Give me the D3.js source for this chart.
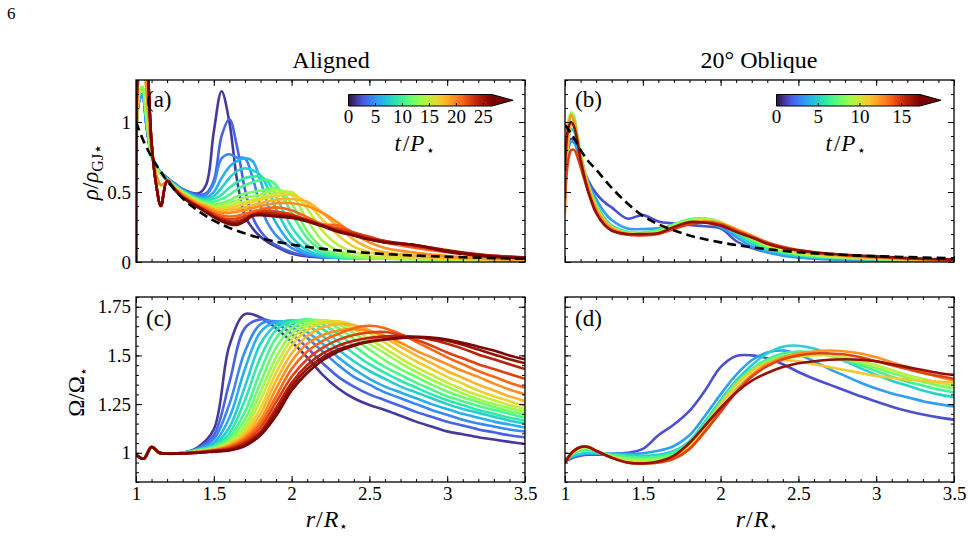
<!DOCTYPE html>
<html>
<head>
<meta charset="utf-8">
<script src="https://cdn.jsdelivr.net/npm/d3@7"></script>
<style>
body { margin: 0; background: #fff; }
text { font-family: "Liberation Serif", "DejaVu Serif", serif; fill: #000; }
</style>
</head>
<body>
<div id="fig"></div>
<script>
// ---------------- data ----------------
// snapshot times t/P* of each curve
var tAligned = [1.5, 3, 4.5, 6, 7.5, 9, 10.5, 12, 13.5, 15, 16.5, 18, 19.5, 21, 22.5, 24, 25.5, 26.5];
var tOblique = [1.5, 3.5, 5, 6.5, 8, 9.5, 11, 12.5, 14.5, 16.5];
var tMaxAligned = 26.6;
var tMaxOblique = 17.2;

// radius grids
var rRhoAligned = [1.0, 1.02, 1.04, 1.07, 1.1, 1.13, 1.16, 1.2, 1.25, 1.3, 1.4, 1.45, 1.5, 1.55, 1.6, 1.65, 1.7, 1.75, 1.8, 1.85, 1.9, 2.0, 2.1, 2.2, 2.3, 2.4, 2.5, 2.6, 2.8, 3.0, 3.25, 3.5];
var rRhoOblique = [1.0, 1.02, 1.04, 1.06, 1.08, 1.1, 1.15, 1.2, 1.25, 1.3, 1.4, 1.5, 1.6, 1.7, 1.8, 1.9, 2.0, 2.1, 2.2, 2.3, 2.4, 2.5, 2.6, 2.8, 3.0, 3.25, 3.5];
var rOmega = [1.0, 1.05, 1.1, 1.15, 1.2, 1.3, 1.4, 1.5, 1.6, 1.7, 1.8, 1.9, 2.0, 2.1, 2.2, 2.3, 2.4, 2.5, 2.6, 2.7, 2.8, 2.9, 3.0, 3.1, 3.2, 3.3, 3.4, 3.5];
var rGJ = [1.0, 1.05, 1.1, 1.15, 1.2, 1.3, 1.4, 1.5, 1.6, 1.8, 2.0, 2.2, 2.5, 2.8, 3.1, 3.5];

// (a) rho / rho_GJ, aligned
var rhoAligned = [
  [0.9,1.15,1.2,0.95,0.76,0.68,0.64,0.6,0.56,0.52, 0.49,0.55,0.93,1.22,1.0,0.58,0.33,0.24,0.18,0.14,0.11, 0.06,0.04,0.033,0.032,0.032,0.03,0.028, 0.025,0.02,0.016,0.013],
  [0.9,1.15,1.2,0.95,0.76,0.68,0.64,0.6,0.555,0.52, 0.48,0.49,0.58,0.9,1.02,0.82,0.52,0.32,0.22,0.16,0.12, 0.07,0.045,0.035,0.03,0.03,0.03,0.028, 0.025,0.02,0.016,0.013],
  [0.9,1.15,1.2,0.95,0.76,0.68,0.64,0.6,0.555,0.515, 0.47,0.48,0.56,0.74,0.77,0.745,0.74,0.6,0.4,0.27,0.19, 0.1,0.055,0.035,0.03,0.028,0.027,0.026, 0.024,0.02,0.016,0.013],
  [0.9,1.15,1.2,0.95,0.76,0.68,0.64,0.6,0.55,0.51, 0.46,0.46,0.5,0.6,0.68,0.72,0.74,0.72,0.58,0.4,0.28, 0.13,0.065,0.04,0.03,0.028,0.027,0.026, 0.024,0.02,0.016,0.013],
  [0.6,1.2,1.25,1.0,0.76,0.67,0.63,0.59,0.55,0.51, 0.455,0.45,0.47,0.53,0.6,0.65,0.67,0.655,0.62,0.52,0.38, 0.18,0.085,0.045,0.032,0.028,0.026,0.025, 0.023,0.02,0.016,0.013],
  [0.6,1.2,1.25,1.0,0.76,0.67,0.63,0.59,0.545,0.505, 0.45,0.44,0.45,0.48,0.53,0.57,0.6,0.61,0.61,0.57,0.47, 0.25,0.12,0.06,0.035,0.028,0.025,0.024, 0.022,0.019,0.016,0.013],
  [0.6,1.2,1.25,1.0,0.76,0.67,0.63,0.59,0.545,0.505, 0.445,0.43,0.43,0.45,0.48,0.52,0.55,0.57,0.585,0.585,0.55, 0.35,0.17,0.08,0.045,0.03,0.025,0.023, 0.021,0.019,0.016,0.013],
  [0.6,1.2,1.25,1.0,0.76,0.67,0.63,0.59,0.54,0.5, 0.44,0.42,0.41,0.42,0.44,0.47,0.49,0.5,0.51,0.52,0.53, 0.42,0.22,0.1,0.055,0.035,0.027,0.023, 0.021,0.019,0.016,0.013],
  [0.6,1.2,1.25,1.0,0.76,0.67,0.63,0.59,0.54,0.5, 0.435,0.415,0.4,0.405,0.42,0.44,0.46,0.47,0.48,0.5,0.515, 0.48,0.3,0.15,0.08,0.045,0.03,0.025, 0.021,0.019,0.016,0.013],
  [0.1,1.4,1.5,1.2,0.8,0.62,0.55,0.57,0.53,0.49, 0.43,0.41,0.39,0.39,0.4,0.42,0.43,0.445,0.46,0.475,0.49, 0.5,0.38,0.22,0.12,0.07,0.045,0.032, 0.023,0.02,0.016,0.013],
  [0.1,1.4,1.5,1.2,0.8,0.62,0.55,0.57,0.53,0.49, 0.425,0.405,0.385,0.38,0.385,0.4,0.415,0.43,0.445,0.46,0.47, 0.48,0.42,0.3,0.19,0.11,0.07,0.05, 0.032,0.025,0.018,0.014],
  [0.1,1.4,1.5,1.2,0.8,0.62,0.55,0.57,0.525,0.485, 0.42,0.4,0.375,0.365,0.37,0.38,0.39,0.405,0.42,0.435,0.445, 0.45,0.43,0.35,0.25,0.16,0.1,0.07, 0.045,0.03,0.02,0.015],
  [0.1,1.4,1.5,1.2,0.8,0.62,0.55,0.57,0.525,0.48, 0.415,0.39,0.365,0.35,0.35,0.36,0.37,0.385,0.4,0.41,0.42, 0.42,0.4,0.35,0.28,0.2,0.14,0.1, 0.065,0.042,0.028,0.02],
  [0.0,1.6,1.7,1.45,0.85,0.55,0.4,0.58,0.52,0.47, 0.405,0.38,0.35,0.33,0.325,0.33,0.345,0.36,0.375,0.385,0.39, 0.37,0.32,0.27,0.26,0.21,0.17,0.14, 0.1,0.07,0.045,0.03],
  [0.0,1.6,1.7,1.45,0.85,0.55,0.4,0.58,0.52,0.47, 0.4,0.37,0.34,0.315,0.305,0.31,0.325,0.345,0.36,0.365,0.36, 0.34,0.3,0.26,0.24,0.21,0.18,0.15, 0.11,0.075,0.048,0.032],
  [0.0,1.6,1.7,1.45,0.85,0.55,0.4,0.58,0.52,0.465, 0.395,0.365,0.33,0.305,0.29,0.29,0.31,0.335,0.35,0.35,0.345, 0.33,0.3,0.26,0.225,0.2,0.17,0.15, 0.12,0.085,0.05,0.033],
  [0.0,1.6,1.7,1.45,0.85,0.55,0.4,0.58,0.515,0.46, 0.39,0.36,0.325,0.295,0.28,0.275,0.3,0.335,0.34,0.335,0.33, 0.32,0.295,0.26,0.22,0.19,0.16,0.14, 0.12,0.08,0.045,0.03],
  [0.0,1.6,1.7,1.45,0.85,0.55,0.4,0.58,0.515,0.46, 0.39,0.355,0.32,0.29,0.27,0.265,0.29,0.33,0.335,0.33,0.325, 0.315,0.29,0.255,0.215,0.19,0.16,0.14, 0.12,0.074,0.04,0.027]
];

// (b) rho / rho_GJ, 20 degree oblique
var rhoOblique = [
  [0.75,0.85,0.88,0.86,0.8,0.72, 0.58,0.49,0.43,0.39, 0.31,0.335,0.29,0.275,0.265,0.255, 0.24,0.15,0.1,0.07,0.05,0.035,0.025, 0.018,0.014,0.012,0.01],
  [0.6,0.8,0.86,0.85,0.8,0.72, 0.56,0.45,0.36,0.3, 0.24,0.235,0.24,0.255,0.275,0.285, 0.25,0.18,0.11,0.07,0.045,0.032,0.024, 0.016,0.012,0.01,0.008],
  [0.5,0.85,0.95,0.93,0.85,0.75, 0.55,0.42,0.32,0.26, 0.215,0.205,0.215,0.26,0.3,0.305, 0.28,0.2,0.13,0.085,0.06,0.045,0.035, 0.025,0.018,0.013,0.01],
  [0.55,0.95,1.06,1.02,0.9,0.78, 0.55,0.41,0.31,0.255, 0.215,0.21,0.23,0.27,0.305,0.31, 0.285,0.215,0.15,0.1,0.07,0.052,0.04, 0.028,0.02,0.014,0.011],
  [0.6,0.98,1.07,1.03,0.9,0.77, 0.54,0.4,0.3,0.25, 0.21,0.205,0.22,0.265,0.3,0.31, 0.285,0.225,0.165,0.11,0.078,0.058,0.045, 0.03,0.022,0.015,0.012],
  [0.65,1.0,1.06,1.0,0.88,0.75, 0.53,0.39,0.3,0.245, 0.205,0.2,0.215,0.26,0.295,0.305, 0.28,0.23,0.175,0.12,0.085,0.063,0.05, 0.034,0.024,0.016,0.012],
  [0.4,0.85,0.98,0.97,0.88,0.76, 0.54,0.39,0.3,0.245, 0.205,0.2,0.21,0.245,0.28,0.295, 0.28,0.235,0.185,0.13,0.095,0.072,0.057, 0.038,0.027,0.018,0.013],
  [0.35,0.95,1.05,1.0,0.88,0.75, 0.53,0.38,0.29,0.24, 0.2,0.195,0.205,0.24,0.275,0.29, 0.275,0.235,0.19,0.14,0.105,0.08,0.064, 0.044,0.031,0.02,0.014],
  [0.45,0.72,0.8,0.8,0.75,0.68, 0.5,0.36,0.27,0.225, 0.195,0.19,0.2,0.235,0.27,0.285, 0.27,0.225,0.18,0.14,0.108,0.085,0.07, 0.05,0.036,0.023,0.016],
  [0.65,0.95,1.0,0.96,0.86,0.73, 0.5,0.35,0.27,0.225, 0.2,0.2,0.205,0.25,0.285,0.28, 0.26,0.215,0.175,0.13,0.1,0.083,0.07, 0.052,0.04,0.026,0.017]
];

// dashed reference curves
var rhoGJAligned = [1.0, 0.86, 0.75, 0.66, 0.58, 0.455, 0.365, 0.296, 0.244, 0.171, 0.125, 0.094, 0.064, 0.046, 0.034, 0.023];
var rhoGJOblique = [0.98, 0.9, 0.8, 0.72, 0.66, 0.53, 0.42, 0.33, 0.27, 0.19, 0.14, 0.105, 0.07, 0.05, 0.038, 0.026];

// (c) Omega / Omega*, aligned
var omegaAligned = [
  [0.99,0.97,1.03,1.0,0.995,1.0, 1.03,1.12,1.55,1.712,1.695,1.64,1.57,1.49,1.40,1.33,1.28,1.245,1.22,1.19,1.16,1.135,1.11,1.095,1.08,1.068,1.056,1.045],
  [0.99,0.97,1.03,1.0,0.995,1.0, 1.025,1.09,1.36,1.64,1.685,1.665,1.61,1.54,1.46,1.39,1.34,1.30,1.27,1.24,1.21,1.185,1.16,1.14,1.12,1.105,1.09,1.08],
  [0.99,0.97,1.03,1.0,0.995,1.0, 1.02,1.07,1.25,1.52,1.66,1.675,1.645,1.59,1.52,1.45,1.39,1.35,1.31,1.28,1.25,1.22,1.195,1.17,1.15,1.135,1.12,1.11],
  [0.99,0.97,1.03,1.0,0.995,1.0, 1.02,1.05,1.18,1.43,1.62,1.672,1.665,1.62,1.56,1.49,1.43,1.38,1.34,1.31,1.28,1.25,1.225,1.20,1.18,1.16,1.145,1.13],
  [0.99,0.97,1.03,1.0,0.995,1.0, 1.015,1.04,1.13,1.34,1.56,1.655,1.68,1.655,1.60,1.53,1.47,1.42,1.38,1.34,1.31,1.28,1.25,1.225,1.205,1.185,1.165,1.15],
  [0.99,0.97,1.03,1.0,0.995,1.0, 1.015,1.035,1.10,1.27,1.49,1.63,1.675,1.675,1.635,1.57,1.51,1.455,1.41,1.37,1.335,1.30,1.27,1.245,1.22,1.20,1.18,1.165],
  [0.99,0.97,1.03,1.0,0.995,1.0, 1.012,1.03,1.08,1.21,1.42,1.59,1.665,1.685,1.66,1.61,1.55,1.49,1.44,1.40,1.36,1.325,1.29,1.265,1.24,1.22,1.20,1.18],
  [0.99,0.97,1.03,1.0,0.995,0.998, 1.01,1.025,1.065,1.17,1.36,1.54,1.64,1.68,1.675,1.64,1.585,1.53,1.475,1.43,1.39,1.35,1.315,1.285,1.26,1.235,1.215,1.195],
  [0.99,0.97,1.03,1.0,0.995,0.998, 1.01,1.02,1.055,1.14,1.31,1.49,1.61,1.665,1.68,1.66,1.615,1.56,1.51,1.46,1.415,1.375,1.34,1.305,1.275,1.25,1.23,1.21],
  [0.99,0.97,1.03,1.0,0.995,0.998, 1.008,1.02,1.05,1.12,1.27,1.45,1.58,1.65,1.678,1.67,1.635,1.585,1.535,1.485,1.44,1.40,1.36,1.325,1.295,1.27,1.245,1.225],
  [0.99,0.97,1.03,1.0,0.995,0.998, 1.008,1.018,1.045,1.105,1.23,1.41,1.55,1.63,1.668,1.675,1.655,1.615,1.565,1.515,1.47,1.43,1.39,1.355,1.32,1.29,1.265,1.24],
  [0.99,0.97,1.03,1.0,0.995,0.998, 1.006,1.016,1.04,1.09,1.20,1.37,1.51,1.60,1.645,1.66,1.655,1.63,1.59,1.545,1.50,1.46,1.42,1.385,1.35,1.32,1.29,1.265],
  [0.99,0.97,1.03,1.0,0.995,0.997, 1.005,1.015,1.035,1.08,1.17,1.33,1.47,1.56,1.605,1.628,1.635,1.625,1.60,1.565,1.525,1.49,1.455,1.42,1.39,1.355,1.325,1.30],
  [0.99,0.97,1.03,1.0,0.995,0.997, 1.004,1.013,1.03,1.07,1.15,1.29,1.43,1.52,1.575,1.61,1.64,1.652,1.64,1.61,1.57,1.53,1.49,1.455,1.42,1.39,1.36,1.335],
  [0.99,0.97,1.03,1.0,0.995,0.997, 1.003,1.012,1.025,1.06,1.13,1.26,1.39,1.48,1.54,1.58,1.605,1.618,1.62,1.605,1.58,1.55,1.515,1.485,1.455,1.43,1.405,1.38],
  [0.99,0.97,1.03,1.0,0.995,0.997, 1.002,1.01,1.02,1.05,1.11,1.23,1.36,1.45,1.51,1.55,1.575,1.59,1.598,1.60,1.595,1.58,1.56,1.535,1.505,1.48,1.455,1.43],
  [0.99,0.97,1.03,1.0,0.995,0.997, 1.0,1.008,1.015,1.04,1.10,1.21,1.34,1.43,1.49,1.53,1.555,1.572,1.583,1.59,1.593,1.588,1.575,1.555,1.53,1.505,1.48,1.46],
  [0.99,0.97,1.03,1.0,0.995,0.997, 1.0,1.006,1.012,1.035,1.09,1.19,1.32,1.41,1.475,1.52,1.55,1.57,1.582,1.59,1.595,1.592,1.582,1.565,1.545,1.525,1.50,1.48]
];

// (d) Omega / Omega*, oblique
var omegaOblique = [
  [0.955,0.975,0.985,0.99,0.99,0.995,1.0,1.02,1.09,1.145,1.215,1.32,1.44,1.497,1.50,1.485,1.455,1.415,1.38,1.35,1.32,1.29,1.263,1.237,1.215,1.197,1.182,1.17],
  [0.965,0.98,0.99,0.995,0.995,0.995,0.995,0.998,1.01,1.035,1.09,1.19,1.30,1.40,1.475,1.515,1.525,1.505,1.47,1.43,1.395,1.36,1.33,1.305,1.285,1.265,1.25,1.238],
  [0.96,0.985,0.995,1.0,0.998,0.993,0.99,0.985,0.99,1.01,1.06,1.16,1.27,1.37,1.45,1.51,1.545,1.55,1.535,1.505,1.47,1.435,1.40,1.37,1.345,1.32,1.30,1.285],
  [0.965,0.995,1.01,1.015,1.005,0.99,0.98,0.975,0.98,1.0,1.05,1.15,1.26,1.36,1.43,1.48,1.51,1.52,1.515,1.50,1.475,1.45,1.42,1.39,1.365,1.345,1.325,1.31],
  [0.96,1.0,1.02,1.025,1.01,0.985,0.97,0.965,0.97,0.99,1.04,1.14,1.25,1.35,1.42,1.47,1.495,1.505,1.51,1.50,1.48,1.46,1.435,1.41,1.385,1.365,1.345,1.33],
  [0.955,1.0,1.025,1.03,1.01,0.98,0.96,0.955,0.96,0.98,1.03,1.12,1.23,1.33,1.40,1.45,1.48,1.495,1.50,1.50,1.49,1.47,1.45,1.425,1.40,1.38,1.36,1.345],
  [0.955,1.0,1.03,1.03,1.01,0.98,0.955,0.95,0.955,0.975,1.03,1.13,1.25,1.35,1.42,1.46,1.475,1.47,1.455,1.44,1.425,1.41,1.395,1.385,1.375,1.37,1.365,1.36],
  [0.955,1.005,1.03,1.03,1.01,0.975,0.95,0.945,0.95,0.97,1.02,1.11,1.22,1.32,1.40,1.455,1.49,1.51,1.52,1.525,1.52,1.51,1.49,1.465,1.44,1.415,1.39,1.37],
  [0.95,1.005,1.03,1.03,1.01,0.975,0.95,0.945,0.95,0.97,1.02,1.11,1.21,1.31,1.39,1.445,1.48,1.50,1.51,1.51,1.505,1.49,1.47,1.45,1.43,1.41,1.395,1.38],
  [0.95,1.005,1.03,1.03,1.01,0.975,0.95,0.945,0.955,0.985,1.05,1.14,1.23,1.31,1.37,1.41,1.44,1.46,1.47,1.478,1.48,1.478,1.47,1.455,1.44,1.425,1.41,1.40]
];

// tick labels
var xTicks = [1, 1.5, 2, 2.5, 3, 3.5];
var xTickLabels = ["1", "1.5", "2", "2.5", "3", "3.5"];
var rhoTicks = [0, 0.5, 1];
var rhoTickLabels = ["0", "0.5", "1"];
var omegaTicks = [1, 1.25, 1.5, 1.75];
var omegaTickLabels = ["1", "1.25", "1.5", "1.75"];
var cbarTicksAligned = [0, 5, 10, 15, 20, 25];
var cbarTicksOblique = [0, 5, 10, 15];

// ---------------- layout ----------------
var svgWidth = 973;
var svgHeight = 537;
var serif = "'Liberation Serif', 'DejaVu Serif', serif";

var svg = d3.select("#fig").append("svg")
    .attr("width", svgWidth)
    .attr("height", svgHeight);
var defs = svg.append("defs");

var xLeft = d3.scaleLinear().domain([1, 3.5]).range([136, 525]);
var xRight = d3.scaleLinear().domain([1, 3.5]).range([565, 954]);
var yRho = d3.scaleLinear().domain([0, 1.3]).range([262, 80]);
var yOmega = d3.scaleLinear().domain([0.85, 1.8]).range([482, 297]);

// turbo colour map, with the darker ends of the matplotlib version
function cmap(f) {
    f = Math.max(0, Math.min(1, f));
    if (f < 0.08) return d3.interpolateRgb("#30123b", d3.interpolateTurbo(0.08))(f / 0.08);
    if (f > 0.92) return d3.interpolateRgb(d3.interpolateTurbo(0.92), "#7a0403")((f - 0.92) / 0.08);
    return d3.interpolateTurbo(f);
}

function styleAxis(g) {
    g.select(".domain").remove();
    g.selectAll("line").attr("stroke", "#000").attr("stroke-width", 1);
    g.selectAll("text").attr("font-family", serif).attr("font-size", 19).attr("fill", "#000");
}

// inward ticks on all four sides plus the frame
function drawAxes(x, y, yTicks, yMinor, xLabels, yLabels) {
    var x0 = x.range()[0], x1 = x.range()[1];
    var y0 = y.range()[0], y1 = y.range()[1];
    var xMinor = d3.range(1, 3.5001, 0.1);
    var g = svg.append("g");

    g.append("g").attr("transform", `translate(0,${y0})`)
        .call(d3.axisBottom(x).tickValues(xMinor).tickSize(-3).tickFormat(() => ""))
        .call(styleAxis);
    g.append("g").attr("transform", `translate(0,${y0})`)
        .call(d3.axisBottom(x).tickValues(xTicks).tickSize(-6).tickPadding(5)
            .tickFormat((d, i) => xLabels ? xLabels[i] : ""))
        .call(styleAxis);
    g.append("g").attr("transform", `translate(0,${y1})`)
        .call(d3.axisTop(x).tickValues(xMinor).tickSize(-3).tickFormat(() => ""))
        .call(styleAxis);
    g.append("g").attr("transform", `translate(0,${y1})`)
        .call(d3.axisTop(x).tickValues(xTicks).tickSize(-6).tickFormat(() => ""))
        .call(styleAxis);

    g.append("g").attr("transform", `translate(${x0},0)`)
        .call(d3.axisLeft(y).tickValues(yMinor).tickSize(-3).tickFormat(() => ""))
        .call(styleAxis);
    g.append("g").attr("transform", `translate(${x0},0)`)
        .call(d3.axisLeft(y).tickValues(yTicks).tickSize(-6).tickPadding(5)
            .tickFormat((d, i) => yLabels ? yLabels[i] : ""))
        .call(styleAxis);
    g.append("g").attr("transform", `translate(${x1},0)`)
        .call(d3.axisRight(y).tickValues(yMinor).tickSize(-3).tickFormat(() => ""))
        .call(styleAxis);
    g.append("g").attr("transform", `translate(${x1},0)`)
        .call(d3.axisRight(y).tickValues(yTicks).tickSize(-6).tickFormat(() => ""))
        .call(styleAxis);

    g.append("rect")
        .attr("x", x0).attr("y", y1)
        .attr("width", x1 - x0).attr("height", y0 - y1)
        .attr("fill", "none").attr("stroke", "#000").attr("stroke-width", 1.3);
}

function drawCurves(id, rGrid, series, times, tMax, x, y, dashVals) {
    defs.append("clipPath").attr("id", id).append("rect")
        .attr("x", x.range()[0]).attr("y", y.range()[1])
        .attr("width", x.range()[1] - x.range()[0])
        .attr("height", y.range()[0] - y.range()[1]);

    var line = d3.line()
        .x(d => x(d[0]))
        .y(d => y(d[1]))
        .curve(d3.curveCatmullRom.alpha(0.5));

    var g = svg.append("g").attr("clip-path", `url(#${id})`);
    g.selectAll("path.curve")
        .data(series)
        .join("path")
        .attr("class", "curve")
        .attr("d", vals => line(d3.zip(rGrid, vals)))
        .attr("fill", "none")
        .attr("stroke", (vals, i) => cmap(times[i] / tMax))
        .attr("stroke-width", 2.6)
        .attr("stroke-linejoin", "round");

    if (dashVals) {
        g.append("path")
            .attr("d", line(d3.zip(rGJ, dashVals)))
            .attr("fill", "none")
            .attr("stroke", "#000")
            .attr("stroke-width", 2.6)
            .attr("stroke-dasharray", "9,5");
    }
}

function drawColorbar(id, x0, tMax, ticks, labelX) {
    var w = 143.5, top = 94.5, h = 11.5;
    var cb = d3.scaleLinear().domain([0, tMax]).range([x0, x0 + w]);
    var grad = defs.append("linearGradient").attr("id", id);
    d3.range(0, 1.0001, 0.05).forEach(f => {
        grad.append("stop").attr("offset", f).attr("stop-color", cmap(f));
    });
    var x1 = x0 + w;
    svg.append("rect")
        .attr("x", x0).attr("y", top).attr("width", w).attr("height", h)
        .attr("fill", `url(#${id})`);
    svg.append("path")
        .attr("d", `M${x1},${top}L${x1 + 21},${top + h / 2}L${x1},${top + h}Z`)
        .attr("fill", cmap(1));
    svg.append("path")
        .attr("d", `M${x0},${top}H${x1}L${x1 + 21},${top + h / 2}L${x1},${top + h}H${x0}Z`)
        .attr("fill", "none").attr("stroke", "#000").attr("stroke-width", 1);

    svg.selectAll(null).data(ticks.filter(t => t > 0)).join("line")
        .attr("x1", d => cb(d)).attr("x2", d => cb(d))
        .attr("y1", top + h - 3).attr("y2", top + h)
        .attr("stroke", "#000").attr("stroke-width", 1);
    svg.selectAll(null).data(ticks).join("text")
        .attr("x", d => cb(d)).attr("y", 123)
        .attr("text-anchor", "middle")
        .attr("font-size", 19)
        .text(d => d);

    var lab = svg.append("text")
        .attr("x", labelX).attr("y", 151)
        .attr("text-anchor", "middle")
        .attr("font-size", 23);
    lab.append("tspan").attr("font-style", "italic").text("t");
    lab.append("tspan").attr("dx", 2).text("/");
    lab.append("tspan").attr("dx", 1).attr("font-style", "italic").text("P");
    lab.append("tspan").attr("font-size", 14).attr("dx", 2).attr("dy", 4).text("⋆");
}

// ---------------- panels ----------------
drawCurves("clipA", rRhoAligned, rhoAligned, tAligned, tMaxAligned, xLeft, yRho, rhoGJAligned);
drawCurves("clipB", rRhoOblique, rhoOblique, tOblique, tMaxOblique, xRight, yRho, rhoGJOblique);
drawCurves("clipC", rOmega, omegaAligned, tAligned, tMaxAligned, xLeft, yOmega, null);
drawCurves("clipD", rOmega, omegaOblique, tOblique, tMaxOblique, xRight, yOmega, null);

drawAxes(xLeft, yRho, rhoTicks, d3.range(0, 1.3001, 0.1), null, rhoTickLabels);
drawAxes(xRight, yRho, rhoTicks, d3.range(0, 1.3001, 0.1), null, null);
drawAxes(xLeft, yOmega, omegaTicks, d3.range(0.85, 1.8001, 0.05), xTickLabels, omegaTickLabels);
drawAxes(xRight, yOmega, omegaTicks, d3.range(0.85, 1.8001, 0.05), xTickLabels, null);

drawColorbar("cbA", 348.5, tMaxAligned, cbarTicksAligned, 415);
drawColorbar("cbB", 776.5, tMaxOblique, cbarTicksOblique, 846);

// panel letters
[["(a)", 146, 107], ["(b)", 575, 107], ["(c)", 146, 326], ["(d)", 575, 326]].forEach(p => {
    svg.append("text").attr("x", p[1]).attr("y", p[2]).attr("font-size", 23).text(p[0]);
});

// titles
svg.append("text").attr("x", 331).attr("y", 68).attr("text-anchor", "middle")
    .attr("font-size", 24).text("Aligned");
svg.append("text").attr("x", 759).attr("y", 68).attr("text-anchor", "middle")
    .attr("font-size", 24).text("20° Oblique");

// page number
svg.append("text").attr("x", 7).attr("y", 19).attr("font-size", 17).text("6");

// axis titles
var rhoLabel = svg.append("text")
    .attr("transform", "translate(98,172) rotate(-90)")
    .attr("text-anchor", "middle")
    .attr("font-size", 23);
rhoLabel.append("tspan").attr("font-style", "italic").text("ρ");
rhoLabel.append("tspan").text("/");
rhoLabel.append("tspan").attr("font-style", "italic").text("ρ");
rhoLabel.append("tspan").attr("font-size", 16).attr("dy", 5).text("GJ⋆");

var omegaLabel = svg.append("text")
    .attr("transform", "translate(84,392) rotate(-90)")
    .attr("text-anchor", "middle")
    .attr("font-size", 23);
omegaLabel.append("tspan").text("Ω/Ω");
omegaLabel.append("tspan").attr("font-size", 14).attr("dy", 4).text("⋆");

[327, 757].forEach(cx => {
    var t = svg.append("text")
        .attr("x", cx).attr("y", 527)
        .attr("text-anchor", "middle")
        .attr("font-size", 24);
    t.append("tspan").attr("font-style", "italic").text("r");
    t.append("tspan").attr("dx", 1).text("/");
    t.append("tspan").attr("dx", 1).attr("font-style", "italic").text("R");
    t.append("tspan").attr("font-size", 14).attr("dx", 1).attr("dy", 4).text("⋆");
});
</script>
</body>
</html>
